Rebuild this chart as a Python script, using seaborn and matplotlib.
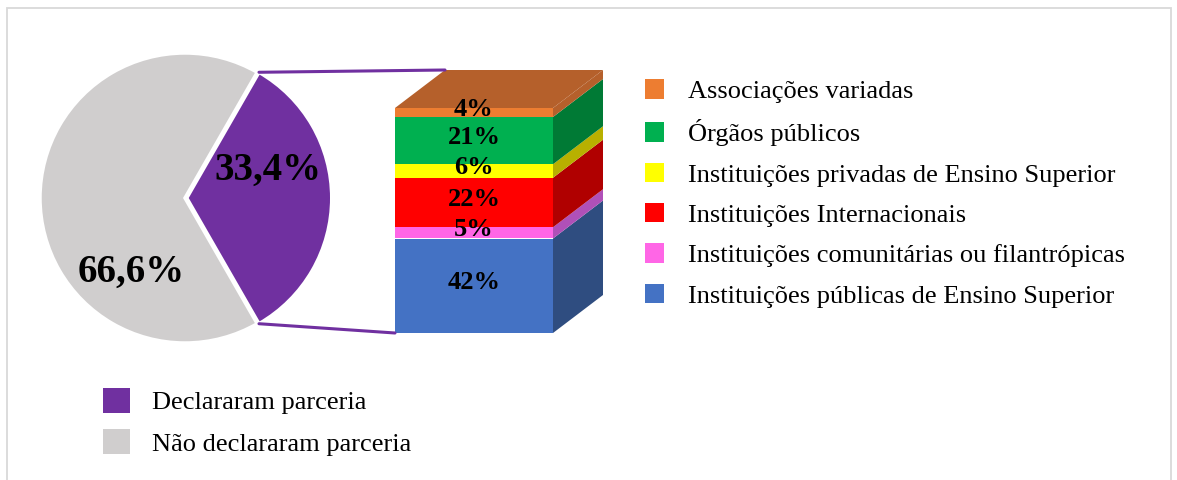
import numpy as np
import matplotlib
matplotlib.use("Agg")
import matplotlib.pyplot as plt
from matplotlib.patches import Polygon, Patch, Rectangle, ConnectionPatch
import seaborn as sns

sns.set_theme(style="white")
plt.rcParams['font.family'] = ['Liberation Serif', 'DejaVu Serif']
plt.rcParams['text.color'] = 'black'

# ---------------------------------------------
# data
# ---------------------------------------------
pie_labels = ["Declararam parceria", "Não declararam parceria"]
pie_values = [33.4, 66.6]
pie_text = ["33,4%", "66,6%"]
pie_colors = ["#7030A0", "#D0CECE"]

# stacked bar, bottom to top
partners = ["Instituições públicas de Ensino Superior",
            "Instituições comunitárias ou filantrópicas",
            "Instituições Internacionais",
            "Instituições privadas de Ensino Superior",
            "Órgãos públicos",
            "Associações variadas"]
shares = [42, 5, 22, 6, 21, 4]
front_colors = ["#4472C4", "#FF66E6", "#FF0000", "#FFFF00", "#00B050", "#ED7D31"]
side_colors = ["#2F4D80", "#B050B8", "#B00000", "#B8B000", "#007A35", "#B5602B"]
top_color = "#B5602B"
link_color = "#7030A0"

W, H = 1177, 480
fig = plt.figure(figsize=(W / 100, H / 100), dpi=100)


def px_axes(x0, y0, x1, y1):
    return fig.add_axes([x0 / W, 1 - y1 / H, (x1 - x0) / W, (y1 - y0) / H])


# ---------------------------------------------
# pie
# ---------------------------------------------
R = 145.0
ax_pie = px_axes(30, 43, 340, 353)
half = pie_values[0] / 100 * 180
expl = 0.012
ax_pie.pie(pie_values, colors=pie_colors, startangle=-half,
           explode=[expl, 0], wedgeprops=dict(linewidth=2.5, edgecolor="white"))
ax_pie.set_xlim(-155 / R, 155 / R)
ax_pie.set_ylim(-155 / R, 155 / R)
ax_pie.set_aspect("equal")
ax_pie.axis("off")

ax_pie.text(0.57, 0.19, pie_text[0], ha="center", va="center",
            fontsize=28, fontweight="bold", color="black")
ax_pie.text(-0.37, -0.51, pie_text[1], ha="center", va="center",
            fontsize=28, fontweight="bold", color="black")

# ---------------------------------------------
# 3D-looking stacked bar
# ---------------------------------------------
ppx, ppy = 158.0, 2.25          # pixels per unit
base_px = 333
ax_bar = px_axes(380, 45, 630, 350)
ax_bar.set_xlim((380 - 395) / ppx, (630 - 395) / ppx)
ax_bar.set_ylim(-(350 - base_px) / ppy, (base_px - 45) / ppy)
ax_bar.axis("off")

dx, dy = 50 / ppx, 38 / ppy
bottoms = np.concatenate([[0], np.cumsum(shares)[:-1]])
total = float(np.sum(shares))

bars = ax_bar.bar(0, shares, bottom=bottoms, width=1, align="edge",
                  color=front_colors, linewidth=0)

for b, v, c in zip(bottoms, shares, side_colors):
    t = b + v
    ax_bar.add_patch(Polygon([(1, b), (1 + dx, b + dy), (1 + dx, t + dy), (1, t)],
                             closed=True, facecolor=c, edgecolor="none"))
ax_bar.add_patch(Polygon([(0, total), (dx, total + dy), (1 + dx, total + dy), (1, total)],
                         closed=True, facecolor=top_color, edgecolor="none"))

for b, v in zip(bottoms, shares):
    ax_bar.text(0.5, b + v / 2 + 1.5, f"{v}%", ha="center", va="center",
                fontsize=19, fontweight="bold", color="black")

# connector lines from the purple wedge to the bar
theta = np.deg2rad(half)
for sgn, xyB in [(1, (dx, total + dy)), (-1, (0, 0))]:
    con = ConnectionPatch(xyA=(expl + np.cos(theta), sgn * np.sin(theta)), coordsA=ax_pie.transData,
                          xyB=xyB, coordsB=ax_bar.transData,
                          color=link_color, lw=2.2)
    fig.add_artist(con)

# ---------------------------------------------
# legends
# ---------------------------------------------
bar_handles = [Patch(facecolor=c, edgecolor="none") for c in front_colors][::-1]
fig.legend(bar_handles, partners[::-1], loc="upper left",
           bbox_to_anchor=(645 / W, 1 - 79 / H), frameon=False, fontsize=19,
           handlelength=0.72, handleheight=0.76, handletextpad=0.9,
           labelspacing=0.62, borderpad=0, borderaxespad=0)

pie_handles = [Patch(facecolor=c, edgecolor="none") for c in pie_colors]
fig.legend(pie_handles, pie_labels, loc="upper left",
           bbox_to_anchor=(103 / W, 1 - 388 / H), frameon=False, fontsize=19,
           handlelength=1.02, handleheight=1.06, handletextpad=0.83,
           labelspacing=0.57, borderpad=0, borderaxespad=0)

# outer frame
fig.add_artist(Rectangle((7 / W, -0.05), (1171 - 7) / W, 1 - 8 / H + 0.05,
                         transform=fig.transFigure, fill=False,
                         edgecolor="#D9D9D9", lw=1.3))

fig.savefig("out.png", dpi=100)
